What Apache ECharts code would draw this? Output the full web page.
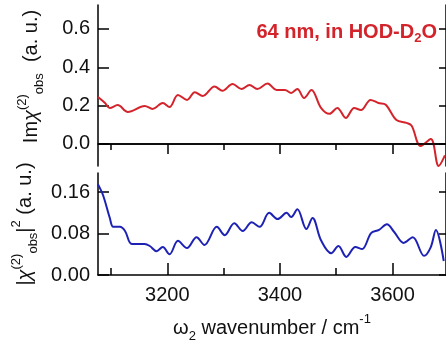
<!DOCTYPE html>
<html>
<head>
<meta charset="utf-8">
<script src="https://cdn.jsdelivr.net/npm/echarts@6/dist/echarts.min.js"></script>
<style>
  html, body { margin: 0; padding: 0; background: #fff; }
  #chart { width: 446px; height: 345px; }
</style>
</head>
<body>
<div id="chart"></div>
<script>
// wavenumber (cm^-1) and Im chi(2) for the top panel
const imWave = [3077, 3089, 3098, 3112, 3130, 3160, 3174, 3192, 3204, 3219, 3235, 3249, 3263, 3284,
  3298, 3316, 3332, 3346, 3360, 3378, 3394, 3409, 3420, 3431, 3443, 3456, 3473, 3488, 3502, 3517,
  3532, 3544, 3561, 3575, 3588, 3607, 3625, 3634, 3650, 3668, 3682, 3693]
const imValues = [0.245, 0.215, 0.188, 0.203, 0.167, 0.198, 0.183, 0.214, 0.193, 0.256, 0.230, 0.270,
  0.250, 0.300, 0.277, 0.313, 0.287, 0.308, 0.287, 0.315, 0.282, 0.282, 0.266, 0.287, 0.240, 0.282,
  0.188, 0.157, 0.188, 0.136, 0.188, 0.177, 0.230, 0.214, 0.205, 0.125, 0.110, 0.095, -0.010, 0.026,
  -0.115, -0.060]

// |chi(2)|^2 for the bottom panel
const absWave = [3077, 3086, 3098, 3104, 3116, 3125, 3137, 3160, 3169, 3181, 3192, 3204, 3219, 3235,
  3252, 3266, 3288, 3302, 3319, 3334, 3350, 3364, 3381, 3396, 3412, 3420, 3431, 3447, 3458, 3473,
  3491, 3504, 3518, 3534, 3546, 3562, 3576, 3590, 3603, 3620, 3636, 3656, 3668, 3677, 3691]
const absValues = [0.175, 0.154, 0.110, 0.093, 0.093, 0.085, 0.060, 0.060, 0.056, 0.046, 0.054, 0.040,
  0.066, 0.052, 0.073, 0.058, 0.093, 0.077, 0.100, 0.085, 0.102, 0.093, 0.120, 0.108, 0.120, 0.112,
  0.127, 0.089, 0.110, 0.067, 0.042, 0.056, 0.035, 0.054, 0.050, 0.081, 0.087, 0.098, 0.083, 0.062,
  0.073, 0.037, 0.054, 0.087, 0.027]

const xMajorTicks = [3200, 3400, 3600]
const xMinorTicks = [3100, 3300, 3500]
const imTicks = [0, 0.2, 0.4, 0.6]
const absTicks = [0, 0.08, 0.16]

const FONT = "'Liberation Sans', Arial, sans-serif"
const RED = '#d3242b'
const BLUE = '#1e22b4'

const chart = echarts.init(document.getElementById('chart'))

const line = { show: true, lineStyle: { color: '#000', width: 1.5 } }
const noLine = { show: false }

function xAxis(grid, pos, ticks, len, labels, extra) {
  return Object.assign({
    type: 'value', gridIndex: grid, position: pos, min: 3077, max: 3695,
    axisLine: line,
    splitLine: { show: false },
    axisTick: { inside: true, length: len, customValues: ticks, lineStyle: { color: '#000', width: 1.5 } },
    axisLabel: labels
      ? { customValues: ticks, fontSize: 20, color: '#111', fontFamily: FONT, margin: 10,
          formatter: v => String(v) }
      : { show: false }
  }, extra || {})
}

function yAxis(grid, pos, min, max, ticks, len, labels, digits, extra) {
  return Object.assign({
    type: 'value', gridIndex: grid, position: pos, min: min, max: max,
    axisLine: line,
    splitLine: { show: false },
    axisTick: { inside: true, length: len, customValues: ticks, lineStyle: { color: '#000', width: 1.5 } },
    axisLabel: labels
      ? { customValues: ticks, fontSize: 20, color: '#111', fontFamily: FONT, margin: 8,
          formatter: v => v.toFixed(digits) }
      : { show: false }
  }, extra || {})
}

const nameRich = {
  t: { fontSize: 20, fontFamily: FONT, color: '#111', lineHeight: 30 },
  c: { fontSize: 20, fontFamily: FONT, color: '#111', fontStyle: 'italic', lineHeight: 30 },
  sup: { fontSize: 13, fontFamily: FONT, color: '#111', verticalAlign: 'top', lineHeight: 30 },
  sub: { fontSize: 13, fontFamily: FONT, color: '#111', verticalAlign: 'bottom', lineHeight: 30 }
}

const option = {
  animation: false,
  backgroundColor: '#fff',
  grid: [
    { left: 98, width: 349, top: 5, height: 161 },
    { left: 98, width: 349, top: 173, height: 102 }
  ],
  xAxis: [
    xAxis(0, 'top', xMajorTicks, 10, false),
    xAxis(0, 'top', xMinorTicks, 6, false, { axisLine: noLine }),
    xAxis(1, 'bottom', xMajorTicks, 12, true, {
      name: '{t|ω}{sub|2}{t| wavenumber / cm}{sup|-1}',
      nameLocation: 'middle', nameGap: 38,
      nameTextStyle: { rich: nameRich }
    }),
    xAxis(1, 'bottom', xMinorTicks, 7, false, { axisLine: noLine })
  ],
  yAxis: [
    yAxis(0, 'left', -0.115, 0.725, imTicks, 11, true, 1, {
      name: '{t|Im}{c|χ}{sup|(2)}{sub|obs}{t|  (a. u.)}',
      nameLocation: 'middle', nameGap: 52, nameRotate: 90,
      nameTextStyle: { rich: nameRich, padding: [0, 0, 0, 18] }
    }),
    yAxis(0, 'right', -0.115, 0.725, imTicks, 7, false, 1),
    yAxis(1, 'left', 0, 0.197, absTicks, 11, true, 2, {
      name: '{t||}{c|χ}{sup|(2)}{sub|obs}{t||}{sup|2}{t| (a. u.)}',
      nameLocation: 'middle', nameGap: 52, nameRotate: 90,
      nameTextStyle: { rich: nameRich }
    }),
    yAxis(1, 'right', 0, 0.197, absTicks, 7, false, 2)
  ],
  series: [
    {
      type: 'line', xAxisIndex: 0, yAxisIndex: 0,
      data: imWave.map((w, i) => [w, imValues[i]]),
      smooth: 0.35, showSymbol: false, clip: false,
      lineStyle: { color: RED, width: 2 },
      markLine: {
        silent: true, symbol: 'none', label: { show: false },
        lineStyle: { color: '#000', width: 1.5, type: 'solid' },
        data: [{ yAxis: 0 }]
      }
    },
    {
      type: 'line', xAxisIndex: 2, yAxisIndex: 2,
      data: absWave.map((w, i) => [w, absValues[i]]),
      smooth: 0.35, showSymbol: false,
      lineStyle: { color: BLUE, width: 2 }
    }
  ],
  graphic: [
    {
      type: 'text', right: 9, top: 22,
      style: {
        text: '{b|64 nm, in HOD-D}{s|2}{b|O}',
        rich: {
          b: { fontSize: 20, fontWeight: 'bold', fontFamily: FONT, fill: RED, lineHeight: 26, verticalAlign: 'middle' },
          s: { fontSize: 13, fontWeight: 'bold', fontFamily: FONT, fill: RED, lineHeight: 26, verticalAlign: 'bottom' }
        }
      }
    }
  ]
}

chart.setOption(option)
</script>
</body>
</html>
